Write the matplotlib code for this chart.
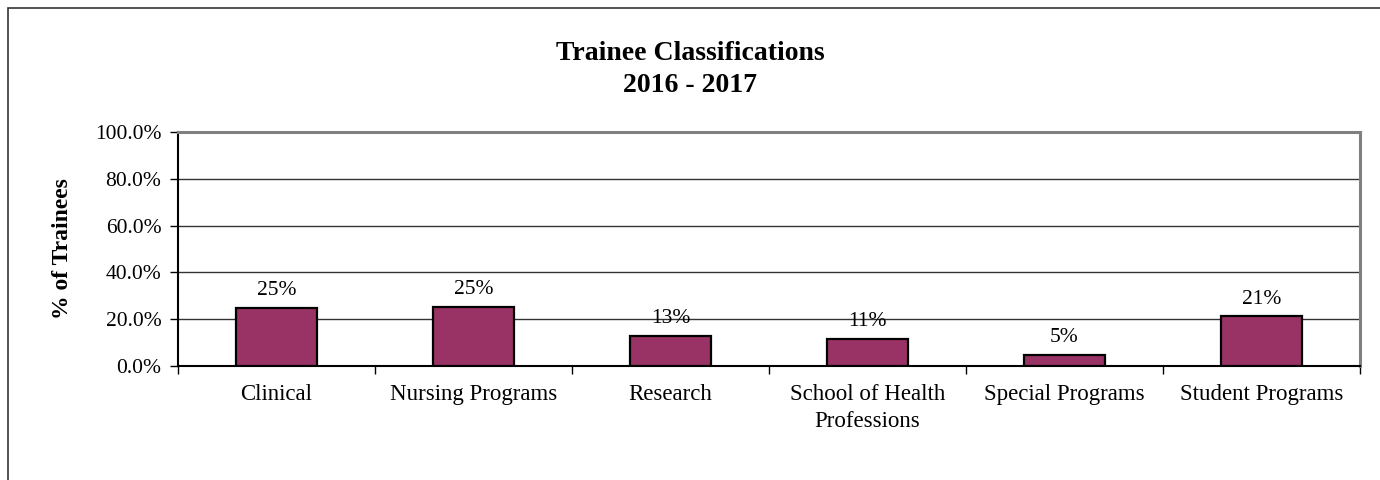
import matplotlib
matplotlib.use("Agg")
import matplotlib.pyplot as plt
from matplotlib.patches import Rectangle
from matplotlib.ticker import FixedLocator, FuncFormatter, NullFormatter

categories = ["Clinical", "Nursing Programs", "Research",
              "School of Health\nProfessions", "Special Programs", "Student Programs"]
values = [24.9, 25.2, 12.8, 11.5, 4.8, 21.2]
labels = ["25%", "25%", "13%", "11%", "5%", "21%"]
y_ticks = [0, 20, 40, 60, 80, 100]

plt.rcParams["font.family"] = ["Liberation Serif", "DejaVu Serif"]

W, H = 1380, 480
fig = plt.figure(figsize=(W / 100, H / 100), dpi=100)
fig.patch.set_facecolor("white")

# outer chart frame
fig.patches.append(Rectangle((8 / W, -0.1), 1.2, 1 - 8 / H + 0.1,
                             transform=fig.transFigure, fill=False,
                             edgecolor="#333333", linewidth=1.2))

ax = fig.add_axes([178 / W, 1 - 366 / H, (1360 - 178) / W, (366 - 132) / H])

x = range(len(categories))
ax.bar(x, values, width=0.41, color="#993366", edgecolor="black",
       linewidth=1.6, zorder=3)

for xi, v, lab in zip(x, values, labels):
    ax.annotate(lab, (xi, v), xytext=(0, 12.5), textcoords="offset points",
                ha="center", va="center", fontsize=15.5, color="black")

ax.set_xlim(-0.5, len(categories) - 0.5)
ax.set_ylim(0, 100)
ax.set_yticks(y_ticks)
ax.yaxis.set_major_formatter(FuncFormatter(lambda v, p: f"{v:.1f}%"))
ax.grid(axis="y", color="#333333", linewidth=1.0, zorder=0)
ax.set_axisbelow(True)

# category ticks sit on the boundaries, labels centred between them
ax.xaxis.set_major_locator(FixedLocator([i - 0.5 for i in range(len(categories) + 1)]))
ax.xaxis.set_major_formatter(NullFormatter())
ax.xaxis.set_minor_locator(FixedLocator(list(x)))
ax.set_xticklabels(categories, minor=True)
for t in ax.get_xticklabels(minor=True):
    t.set_linespacing(1.4)
ax.tick_params(axis="x", which="major", direction="out", length=6, width=1, color="black")
ax.tick_params(axis="x", which="minor", length=0, pad=13, labelsize=16.5)
ax.tick_params(axis="y", direction="out", length=6, width=1, color="black",
               labelsize=15.5, pad=6)

for side in ("left", "bottom"):
    ax.spines[side].set_color("black")
    ax.spines[side].set_linewidth(1.5)
for side in ("top", "right"):
    ax.spines[side].set_color("#808080")
    ax.spines[side].set_linewidth(2.2)

ax.set_ylabel("% of Trainees", fontsize=17, fontweight="bold", labelpad=16)

fig.text(0.5, 1 - 53 / H, "Trainee Classifications", ha="center", va="center",
         fontsize=20, fontweight="bold")
fig.text(0.5, 1 - 85 / H, "2016 - 2017", ha="center", va="center",
         fontsize=20, fontweight="bold")

fig.savefig("out.png", dpi=100, facecolor="white")
